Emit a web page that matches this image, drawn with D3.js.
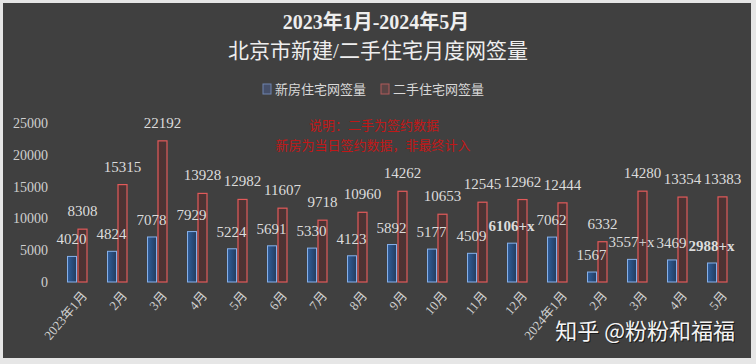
<!DOCTYPE html>
<html>
<head>
<meta charset="utf-8">
<script src="https://cdn.jsdelivr.net/npm/d3@7"></script>
<style>
  body { margin: 0; background: #e6e6e6; }
  svg { display: block; }
</style>
</head>
<body>
<div id="chart"></div>
<script>
var months = ["2023年1月", "2月", "3月", "4月", "5月", "6月", "7月", "8月", "9月", "10月", "11月", "12月",
              "2024年1月", "2月", "3月", "4月", "5月"];
var newHomes = [4020, 4824, 7078, 7929, 5224, 5691, 5330, 4123, 5892, 5177, 4509, 6106, 7062, 1567, 3557, 3469, 2988];
var secondHomes = [8308, 15315, 22192, 13928, 12982, 11607, 9718, 10960, 14262, 10653, 12545, 12962, 12444, 6332, 14280, 13354, 13383];
var newLabels = ["4020", "4824", "7078", "7929", "5224", "5691", "5330", "4123", "5892", "5177", "4509", "6106+x",
                 "7062", "1567", "3557+x", "3469", "2988+x"];
var boldLabels = ["6106+x", "2988+x"];
var yTicks = [0, 5000, 10000, 15000, 20000, 25000];
var seriesNames = ["新房住宅网签量", "二手住宅网签量"];

var W = 756, H = 364;
var serif = "'Liberation Serif', 'DejaVu Serif', 'Noto Sans CJK SC', serif";
var sans = "'Noto Sans CJK SC', 'Noto Sans', sans-serif";

var svg = d3.select("#chart").append("svg")
    .attr("width", W)
    .attr("height", H);

var defs = svg.append("defs");
var gBlue = defs.append("linearGradient").attr("id", "gBlue");
gBlue.append("stop").attr("offset", "0%").attr("stop-color", "#2f5e9c");
gBlue.append("stop").attr("offset", "100%").attr("stop-color", "#243c5e");
var gRed = defs.append("linearGradient").attr("id", "gRed");
gRed.append("stop").attr("offset", "0%").attr("stop-color", "#553030");
gRed.append("stop").attr("offset", "100%").attr("stop-color", "#463636");

svg.append("rect")
    .attr("x", 3).attr("y", 3)
    .attr("width", 748).attr("height", 355)
    .attr("fill", "#404040");

// titles
svg.append("text")
    .attr("x", 376).attr("y", 29)
    .attr("text-anchor", "middle")
    .style("font-family", serif)
    .style("font-weight", "bold")
    .style("font-size", "20px")
    .attr("fill", "#eeeeee")
    .text("2023年1月-2024年5月");

svg.append("text")
    .attr("x", 378).attr("y", 58)
    .attr("text-anchor", "middle")
    .style("font-family", serif)
    .style("font-size", "21px")
    .attr("fill", "#eeeeee")
    .text("北京市新建/二手住宅月度网签量");

// legend
var legend = svg.append("g");
var legendX = [263, 381];
var legendStroke = ["#6f84b0", "#b05a5a"];
var legendFill = ["#46506a", "#5a4444"];
seriesNames.forEach(function(name, i) {
    legend.append("rect")
        .attr("x", legendX[i]).attr("y", 84)
        .attr("width", 8).attr("height", 10)
        .attr("fill", legendFill[i])
        .attr("stroke", legendStroke[i]);
    legend.append("text")
        .attr("x", legendX[i] + 12).attr("y", 94)
        .style("font-family", sans)
        .style("font-size", "13px")
        .attr("fill", "#d8d8d8")
        .text(name);
});

// annotation
svg.append("text")
    .attr("x", 374).attr("y", 130)
    .attr("text-anchor", "middle")
    .style("font-family", sans)
    .style("font-size", "13px")
    .attr("fill", "#c01818")
    .text("说明：二手为签约数据");
svg.append("text")
    .attr("x", 373).attr("y", 150)
    .attr("text-anchor", "middle")
    .style("font-family", sans)
    .style("font-size", "13px")
    .attr("fill", "#c01818")
    .text("新房为当日签约数据，非最终计入");

// scales
var x = d3.scaleBand()
    .domain(months.map(function(d, i) { return i; }))
    .range([57.5, 737.5]);

var y = d3.scaleLinear()
    .domain([0, 25000])
    .range([282, 123]);

var barW = 10;

var yAxis = d3.axisLeft(y)
    .tickValues(yTicks)
    .tickFormat(d3.format("d"))
    .tickSize(0)
    .tickPadding(0);

var yg = svg.append("g")
    .attr("transform", "translate(48,0)")
    .call(yAxis);
yg.select(".domain").remove();
yg.selectAll("text")
    .style("font-family", serif)
    .style("font-size", "14px")
    .attr("fill", "#cfcfcf");

var xAxis = d3.axisBottom(x)
    .tickSize(0)
    .tickFormat(function(i) { return months[i]; });

var xg = svg.append("g")
    .attr("transform", "translate(0,288)")
    .call(xAxis);
xg.select(".domain").remove();
xg.selectAll("text")
    .style("font-family", serif)
    .style("font-size", "13px")
    .attr("fill", "#d0d0d0")
    .attr("text-anchor", "end")
    .attr("dx", 0)
    .attr("dy", 0)
    .attr("transform", "translate(8,6) rotate(-50)");

// bars
var bars = svg.append("g");
months.forEach(function(m, i) {
    var cx = x(i) + x.bandwidth() / 2;
    bars.append("rect")
        .attr("x", cx - barW)
        .attr("y", y(newHomes[i]))
        .attr("width", barW - 1)
        .attr("height", y(0) - y(newHomes[i]))
        .attr("fill", "url(#gBlue)")
        .attr("stroke", "#86b0ea")
        .attr("stroke-width", 1);
    bars.append("rect")
        .attr("x", cx + 0.5)
        .attr("y", y(secondHomes[i]))
        .attr("width", barW - 1)
        .attr("height", y(0) - y(secondHomes[i]))
        .attr("fill", "url(#gRed)")
        .attr("stroke", "#e25a5a")
        .attr("stroke-width", 1.2);
});

// value labels
var labels = svg.append("g")
    .style("font-family", serif)
    .style("font-size", "15px")
    .attr("fill", "#dcdcdc")
    .attr("text-anchor", "middle");

months.forEach(function(m, i) {
    var cx = x(i) + x.bandwidth() / 2;
    labels.append("text")
        .attr("x", cx - barW / 2 - 1)
        .attr("y", y(newHomes[i]) - 12)
        .style("font-weight", boldLabels.indexOf(newLabels[i]) >= 0 ? "bold" : "normal")
        .text(newLabels[i]);
    labels.append("text")
        .attr("x", cx + barW / 2)
        .attr("y", y(secondHomes[i]) - 13)
        .text(secondHomes[i]);
});

// watermark
svg.append("text")
    .attr("x", 735).attr("y", 339)
    .attr("text-anchor", "end")
    .style("font-family", sans)
    .style("font-size", "22px")
    .attr("fill", "#1a1a1a")
    .attr("transform", "translate(1,1)")
    .text("知乎 @粉粉和福福");
svg.append("text")
    .attr("x", 735).attr("y", 339)
    .attr("text-anchor", "end")
    .style("font-family", sans)
    .style("font-size", "22px")
    .attr("fill", "#f4f4f4")
    .text("知乎 @粉粉和福福");
</script>
</body>
</html>
